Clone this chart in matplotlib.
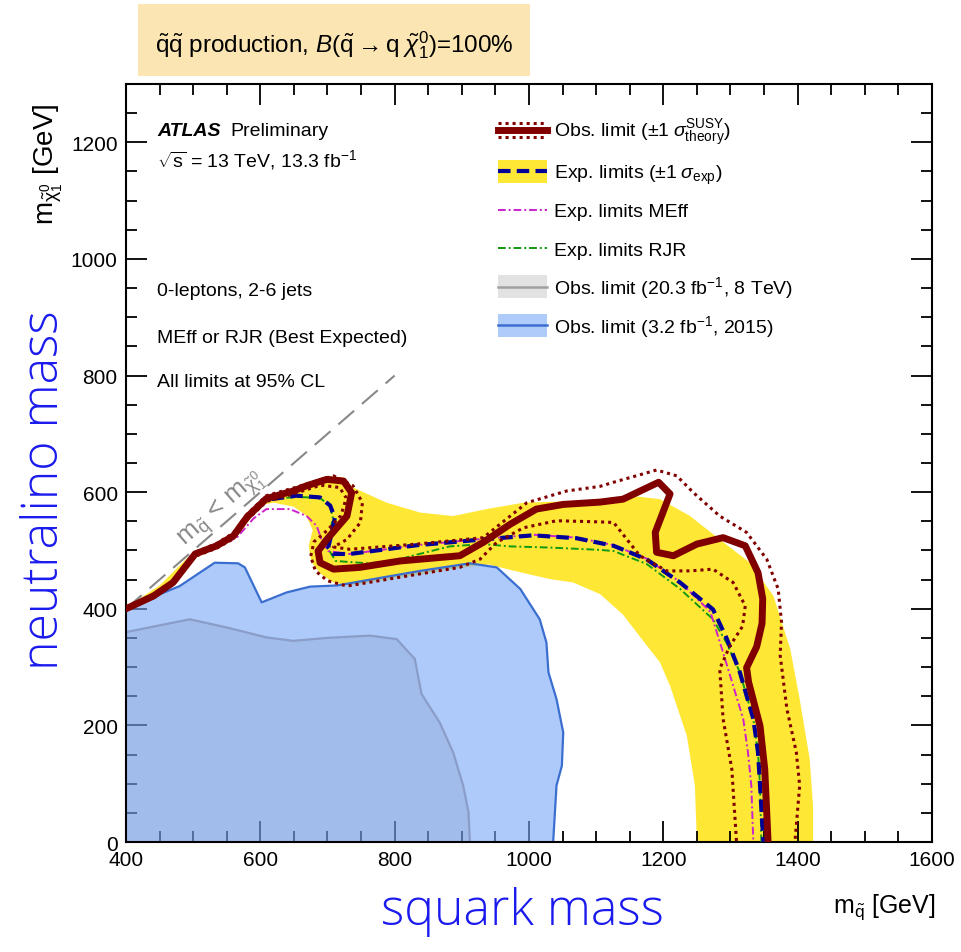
import matplotlib
matplotlib.use('Agg')
import matplotlib.pyplot as plt
from matplotlib.patches import Rectangle
from matplotlib.lines import Line2D
from matplotlib.legend_handler import HandlerBase
from matplotlib.ticker import MultipleLocator

plt.rcParams['font.family'] = ['Liberation Sans', 'DejaVu Sans']
plt.rcParams['mathtext.fontset'] = 'custom'
plt.rcParams['mathtext.rm'] = 'Liberation Sans'
plt.rcParams['mathtext.it'] = 'Liberation Sans:italic'
plt.rcParams['mathtext.bf'] = 'Liberation Sans:bold'

# observed limit (thick) and +-1 sigma theory (dotted)
obs_x = [400, 441, 470, 503, 535, 560, 580, 609, 649, 669, 699, 724, 736, 729, 699, 686, 689, 709, 748,
         808, 897, 932, 972, 1011, 1051, 1106, 1140, 1193, 1210, 1188, 1190, 1215, 1250, 1289, 1322,
         1341, 1348, 1347, 1339, 1324, 1327, 1344, 1351, 1356]
obs_y = [400, 422, 445, 494, 508, 525, 557, 589, 602, 611, 622, 619, 599, 559, 519, 499, 479, 468, 471,
         482, 491, 514, 545, 571, 579, 583, 588, 617, 597, 531, 497, 491, 511, 522, 508,
         462, 417, 375, 335, 299, 274, 199, 125, 0]

up_x = [400, 441, 470, 503, 535, 560, 580, 609, 649, 680, 709, 738, 752, 749, 729, 709, 733, 833, 932,
        972, 997, 1056, 1106, 1126, 1190, 1220, 1245, 1284, 1324, 1354, 1371, 1376, 1374, 1384, 1398,
        1403, 1396]
up_y = [402, 425, 448, 497, 512, 530, 562, 594, 607, 618, 628, 611, 582, 548, 519, 506, 502, 511, 522,
        559, 582, 602, 610, 617, 638, 628, 599, 559, 531, 485, 434, 377, 320, 228, 154,
        97, 0]

dn_x = [400, 441, 470, 503, 535, 560, 580, 609, 649, 690, 718, 728, 720, 700, 680, 675, 682, 700, 729,
        833, 897, 927, 952, 992, 1041, 1106, 1126, 1165, 1205, 1240, 1274, 1304, 1322, 1318, 1299,
        1284, 1289, 1302, 1309]
dn_y = [398, 419, 442, 490, 504, 520, 552, 584, 597, 612, 608, 590, 560, 535, 515, 490, 465, 448, 439,
        459, 471, 485, 514, 539, 551, 549, 548, 491, 465, 465, 468, 445, 405, 370, 336,
        297, 211, 125, 0]

# expected limit and +-1 sigma band
exp_x = [400, 441, 470, 503, 535, 560, 580, 609, 654, 689, 704, 711, 704, 701, 709, 733, 833, 932, 1006,
         1071, 1126, 1175, 1225, 1274, 1294, 1314, 1334, 1341, 1344, 1349]
exp_y = [400, 421, 444, 493, 507, 523, 555, 587, 594, 591, 577, 556, 519, 505, 494, 494, 509, 519, 526,
         521, 508, 485, 445, 399, 350, 291, 211, 154, 97, 0]

band_x = [400, 450, 500, 540, 570, 600, 650, 700, 725, 738, 788, 838, 887, 937, 992, 1076, 1150, 1195,
          1240, 1284, 1329, 1364, 1389, 1403, 1418, 1423, 1423,
          1250, 1247, 1235, 1210, 1195, 1170, 1140, 1106, 1066, 1031, 982, 940, 897, 833, 733, 709,
          690, 676, 672, 678, 668, 650, 620, 600, 570, 540, 500, 450, 400]
band_y = [402, 440, 497, 515, 540, 585, 608, 628, 625, 608, 582, 565, 559, 571, 582, 585, 594, 588,
          559, 519, 479, 422, 331, 245, 142, 60, 0,
          0, 97, 182, 268, 308, 345, 390, 425, 445, 451, 464, 476, 470, 458, 440, 445,
          460, 480, 508, 535, 560, 575, 582, 578, 530, 505, 488, 430, 396]

meff_x = [400, 441, 470, 503, 535, 565, 590, 609, 644, 669, 684, 691, 701, 733, 833, 932, 1006, 1071,
          1126, 1175, 1225, 1270, 1289, 1304, 1319, 1326, 1331, 1334]
meff_y = [400, 421, 444, 493, 507, 522, 555, 571, 571, 559, 542, 519, 499, 494, 509, 520, 527, 522,
          509, 486, 446, 395, 325, 268, 211, 154, 97, 0]

rjr_x = [400, 441, 470, 503, 535, 560, 580, 609, 654, 689, 704, 708, 702, 700, 712, 760, 800, 823, 882,
         932, 972, 1031, 1106, 1126, 1175, 1225, 1274, 1294, 1314, 1334, 1341, 1344, 1346]
rjr_y = [400, 421, 444, 493, 507, 523, 555, 587, 592, 590, 576, 556, 520, 505, 482, 478, 482, 490, 507,
         511, 507, 505, 501, 499, 477, 434, 382, 342, 291, 211, 154, 97, 0]

# previous results
run2015_x = [400, 440, 480, 532, 567, 577, 602, 639, 674, 714, 838, 912, 952, 987, 1016, 1026, 1029,
             1041, 1051, 1049, 1041, 1036, 400]
run2015_y = [399, 420, 439, 479, 478, 471, 411, 428, 438, 440, 465, 478, 471, 434, 382, 342, 291,
             245, 188, 131, 97, 0, 0]

run1_x = [400, 495, 550, 609, 649, 699, 763, 803, 830, 840, 867, 887, 902, 910, 912, 400]
run1_y = [360, 382, 368, 351, 345, 350, 354, 348, 314, 254, 205, 154, 97, 51, 0, 0]

diag_x = [400, 800]
diag_y = [400, 800]

legend_labels = [r'Obs. limit ($\pm1\;\sigma^{\rm SUSY}_{\rm theory}$)',
                 r'Exp. limits ($\pm1\;\sigma_{\rm exp}$)',
                 'Exp. limits MEff',
                 'Exp. limits RJR',
                 r'Obs. limit (20.3 fb$^{-1}$, 8 TeV)',
                 r'Obs. limit (3.2 fb$^{-1}$, 2015)']

RED = '#800000'
YELLOW = '#ffe735'
DBLUE = '#000099'
MAG = '#cc22cc'
GREEN = '#119911'
LBLUE = '#3a6fd0'


class SwatchHandler(HandlerBase):
    def __init__(self, face=None, lines=()):
        super().__init__()
        self.face = face
        self.lines = lines

    def create_artists(self, legend, orig_handle, xdescent, ydescent, width, height, fontsize, trans):
        arts = []
        if self.face is not None:
            arts.append(Rectangle((-xdescent, -ydescent + 0.1 * height), width, 0.8 * height,
                                  facecolor=self.face, edgecolor='none', transform=trans))
        for frac, kw in self.lines:
            yy = -ydescent + frac * height
            arts.append(Line2D([-xdescent, -xdescent + width], [yy, yy], transform=trans, **kw))
        return arts


fig = plt.figure(figsize=(9.61, 9.53), dpi=100)
ax = fig.add_axes([0.1311, 0.1154, 0.8387, 0.7954])

ax.fill(band_x, band_y, color=YELLOW, lw=0, zorder=1)
ax.fill(run2015_x, run2015_y, color='#78a8f7', alpha=0.6, lw=0, zorder=2)
ax.plot(run2015_x[:-1], run2015_y[:-1], color=LBLUE, lw=1.6, zorder=2.2)
ax.fill(run1_x, run1_y, color='#5a6e9a', alpha=0.15, lw=0, zorder=2.4)
ax.plot(run1_x[:-1], run1_y[:-1], color='#8a9dc8', lw=1.6, zorder=2.5)

ax.plot(diag_x, diag_y, color='#888888', lw=1.5, dashes=(10, 5), zorder=3)
ax.text(542, 572, r'$\rm m_{\tilde{q}}$ < $\rm m_{\tilde{\chi}^0_1}$', color='#888888', fontsize=19,
        rotation=45, transform_rotates_text=True, rotation_mode='anchor',
        ha='center', va='center', zorder=3)

ax.plot(rjr_x, rjr_y, color=GREEN, lw=1.4, dashes=(4, 1.5, 1, 1.5), zorder=4)
ax.plot(meff_x, meff_y, color=MAG, lw=1.4, dashes=(4, 1.5, 1, 1.5), zorder=4.1)
ax.plot(exp_x, exp_y, color=DBLUE, lw=3, dashes=(3, 1.5), zorder=4.2)
ax.plot(up_x, up_y, color=RED, lw=2.2, dashes=(1, 1.3), zorder=4.3)
ax.plot(dn_x, dn_y, color=RED, lw=2.2, dashes=(1, 1.3), zorder=4.3)
ax.plot(obs_x, obs_y, color=RED, lw=5, zorder=4.5, solid_joinstyle='round')

ax.set_xlim(400, 1600)
ax.set_ylim(0, 1300)
ax.xaxis.set_major_locator(MultipleLocator(200))
ax.xaxis.set_minor_locator(MultipleLocator(50))
ax.yaxis.set_major_locator(MultipleLocator(200))
ax.yaxis.set_minor_locator(MultipleLocator(50))
ax.tick_params(which='both', direction='in', top=True, right=True, labelsize=15, width=1.3)
ax.tick_params(which='major', length=15, pad=6)
ax.tick_params(which='minor', length=8)
for s in ax.spines.values():
    s.set_linewidth(1.5)

# legend
hs = [Line2D([], []) for _ in legend_labels]
hmap = {
    hs[0]: SwatchHandler(None, [(0.25, dict(color=RED, lw=2.2, dashes=(1, 1.3))),
                                (0.5, dict(color=RED, lw=5)),
                                (0.75, dict(color=RED, lw=2.2, dashes=(1, 1.3)))]),
    hs[1]: SwatchHandler(YELLOW, [(0.5, dict(color=DBLUE, lw=3, dashes=(3, 1.5)))]),
    hs[2]: SwatchHandler(None, [(0.5, dict(color=MAG, lw=1.4, dashes=(4, 1.5, 1, 1.5)))]),
    hs[3]: SwatchHandler(None, [(0.5, dict(color=GREEN, lw=1.4, dashes=(4, 1.5, 1, 1.5)))]),
    hs[4]: SwatchHandler('#e2e2e2', [(0.5, dict(color='#a0a0a0', lw=1.8))]),
    hs[5]: SwatchHandler('#aecbfa', [(0.5, dict(color=LBLUE, lw=1.8))]),
}
ax.legend(hs, legend_labels, handler_map=hmap, loc='upper left', bbox_to_anchor=(0.462, 0.958),
          frameon=False, fontsize=14, handlelength=2.5, handleheight=1.9, labelspacing=0.5,
          handletextpad=0.35, borderpad=0, borderaxespad=0)

# text annotations
ax.text(0.0385, 0.939, 'ATLAS', transform=ax.transAxes, fontsize=14, fontweight='bold',
        fontstyle='italic', va='center')
ax.text(0.130, 0.939, 'Preliminary', transform=ax.transAxes, fontsize=14, va='center')
ax.text(0.0385, 0.901, r'$\sqrt{\rm s}$ = 13 TeV, 13.3 fb$^{-1}$', transform=ax.transAxes,
        fontsize=14, va='center')
ax.text(0.0385, 0.727, '0-leptons, 2-6 jets', transform=ax.transAxes, fontsize=14, va='center')
ax.text(0.0385, 0.666, 'MEff or RJR (Best Expected)', transform=ax.transAxes, fontsize=14, va='center')
ax.text(0.0385, 0.607, 'All limits at 95% CL', transform=ax.transAxes, fontsize=14, va='center')

# title box
fig.patches.append(Rectangle((0.1436, 0.9192), 0.408, 0.0756, transform=fig.transFigure,
                             facecolor='#fbe5b3', edgecolor='none', zorder=0))
fig.text(0.3475, 0.953,
         r'$\tilde{\rm q}\tilde{\rm q}$ production, $B(\tilde{\rm q}\rightarrow{\rm q}\;\tilde{\chi}^0_1)$=100%',
         fontsize=17.5, ha='center', va='center')

# axis labels
fig.text(0.973, 0.048, r'$\rm m_{\tilde{q}}$ [GeV]', fontsize=18, ha='right', va='center')
fig.text(0.050, 0.828, r'$\rm m_{\tilde{\chi}^0_1}$ [GeV]', fontsize=20, ha='center', va='center',
         rotation=90)

# hand-written style labels
fig.text(0.544, 0.043, 'squark mass', fontsize=36, color='#1a1aee', ha='center', va='center',
         family=['Open Sans', 'DejaVu Sans'], fontweight='light')
fig.text(0.047, 0.486, 'neutralino mass', fontsize=36, color='#1a1aee', ha='center', va='center',
         rotation=90, family=['Open Sans', 'DejaVu Sans'], fontweight='light')

fig.savefig('out.png', dpi=100)
